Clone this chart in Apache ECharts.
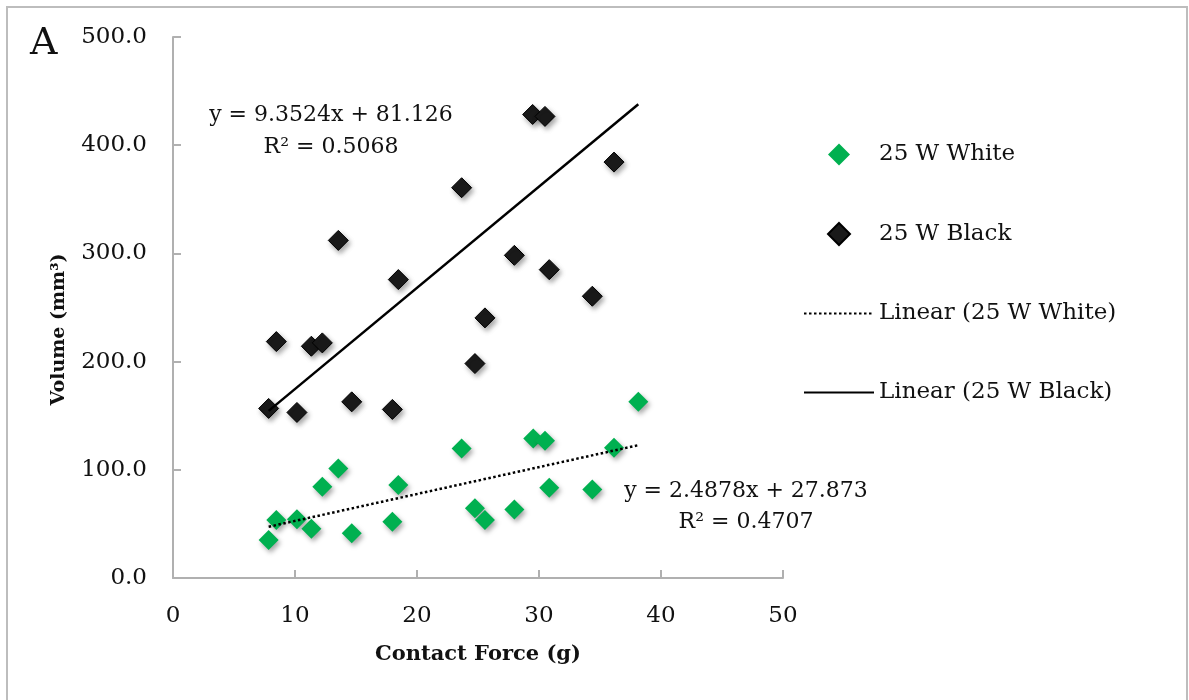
<!DOCTYPE html>
<html>
<head>
<meta charset="utf-8">
<script src="https://cdn.jsdelivr.net/npm/echarts@6/dist/echarts.min.js"></script>
<style>
  html, body { margin: 0; padding: 0; background: #fff; }
  #chart { width: 1189px; height: 700px; }
</style>
</head>
<body>
<div id="chart"></div>
<script>
  // contact force (g) for each sample
  const whiteForce = [7.84, 8.47, 10.16, 11.34, 12.24, 13.55, 14.65, 17.98, 18.47, 23.66, 24.75, 25.57, 27.98, 29.53, 30.49, 30.84, 34.37, 36.15, 38.14]
  const whiteVolume = [35.1, 53.6, 54.2, 45.5, 84.3, 101.3, 41.3, 52.0, 85.9, 119.8, 64.4, 53.6, 63.4, 129.0, 126.8, 83.4, 81.9, 120.3, 162.8]
  const blackForce = [7.84, 8.47, 10.16, 11.34, 12.24, 13.55, 14.65, 17.98, 18.47, 23.66, 24.75, 25.57, 27.98, 29.48, 30.49, 30.84, 34.37, 36.15]
  const blackVolume = [156.7, 218.5, 153.0, 214.2, 217.3, 312.0, 162.8, 155.8, 275.8, 360.7, 198.2, 240.4, 298.2, 428.4, 426.6, 285.0, 260.4, 384.4]

  // trendline fits: [white, black]
  const seriesNames = ['25 W White', '25 W Black']
  const slopes = [2.4878, 9.3524]
  const intercepts = [27.873, 81.126]
  const rSquared = ['0.4707', '0.5068']
  const trendRange = [7.84, 38.14]

  const xTicks = { min: 0, max: 50, step: 10 }
  const yTicks = { min: 0, max: 500, step: 100 }

  const font = 'DejaVu Serif'
  const txt = '#111'
  const diamond = 'path://M10,0L20,10L10,20L0,10Z'

  function pairs(xs, ys) {
    return xs.map((x, i) => [x, ys[i]])
  }
  function trend(k) {
    return trendRange.map(x => [x, slopes[k] * x + intercepts[k]])
  }
  function eqText(k) {
    return 'y = ' + slopes[k] + 'x + ' + intercepts[k]
  }

  const chart = echarts.init(document.getElementById('chart'))
  chart.setOption({
    animation: false,
    backgroundColor: '#fff',
    title: {
      text: 'A',
      left: 25,
      top: 20,
      textStyle: { fontFamily: font, fontSize: 38, fontWeight: 'normal', color: txt }
    },
    grid: { left: 173, right: 406, top: 37, bottom: 122 },
    legend: {
      orient: 'vertical',
      left: 798,
      top: 138,
      itemWidth: 70,
      itemHeight: 22,
      itemGap: 56,
      symbolKeepAspect: true,
      textStyle: { fontFamily: font, fontSize: 23, color: txt },
      data: [
        { name: seriesNames[0], icon: diamond },
        { name: seriesNames[1], icon: diamond },
        { name: 'Linear (25 W White)', itemStyle: { opacity: 0 } },
        { name: 'Linear (25 W Black)', itemStyle: { opacity: 0 } }
      ]
    },
    xAxis: {
      type: 'value',
      min: xTicks.min,
      max: xTicks.max,
      interval: xTicks.step,
      name: 'Contact Force (g)',
      nameLocation: 'middle',
      nameGap: 66,
      nameTextStyle: { fontFamily: font, fontSize: 21, fontWeight: 'bold', color: txt },
      axisLine: { lineStyle: { color: '#b0b0b0', width: 2 } },
      axisTick: { inside: true, length: 8, lineStyle: { color: '#b0b0b0', width: 2 } },
      axisLabel: { fontFamily: font, fontSize: 23, color: txt, margin: 27 },
      splitLine: { show: false }
    },
    yAxis: {
      type: 'value',
      min: yTicks.min,
      max: yTicks.max,
      interval: yTicks.step,
      name: 'Volume (mm³)',
      nameLocation: 'middle',
      nameGap: 104,
      nameTextStyle: { fontFamily: font, fontSize: 19, fontWeight: 'bold', color: txt, padding: [0, 44, 0, 0] },
      axisLine: { show: true, lineStyle: { color: '#b0b0b0', width: 2 } },
      axisTick: { show: true, inside: true, length: 8, lineStyle: { color: '#b0b0b0', width: 2 } },
      axisLabel: { fontFamily: font, fontSize: 23, color: txt, margin: 26, formatter: v => v.toFixed(1) },
      splitLine: { show: false }
    },
    series: [
      {
        name: seriesNames[0],
        type: 'scatter',
        symbol: 'diamond',
        symbolSize: 20,
        data: pairs(whiteForce, whiteVolume),
        itemStyle: {
          color: '#00b050',
          opacity: 1,
          shadowBlur: 5,
          shadowOffsetX: 2,
          shadowOffsetY: 3,
          shadowColor: 'rgba(0,0,0,0.35)'
        }
      },
      {
        name: seriesNames[1],
        type: 'scatter',
        symbol: 'diamond',
        symbolSize: 20,
        data: pairs(blackForce, blackVolume),
        itemStyle: {
          color: '#1a1a1a',
          opacity: 1,
          borderColor: '#000',
          borderWidth: 1,
          shadowBlur: 5,
          shadowOffsetX: 2,
          shadowOffsetY: 3,
          shadowColor: 'rgba(0,0,0,0.35)'
        }
      },
      {
        name: 'Linear (25 W White)',
        type: 'line',
        z: 3,
        symbol: 'none',
        data: trend(0),
        lineStyle: { color: '#000', width: 2.5, type: [2.5, 2.5] },
        itemStyle: { color: '#000' }
      },
      {
        name: 'Linear (25 W Black)',
        type: 'line',
        z: 3,
        symbol: 'none',
        data: trend(1),
        lineStyle: { color: '#000', width: 2.5, type: 'solid' },
        itemStyle: { color: '#000' }
      }
    ],
    graphic: [
      {
        type: 'rect',
        shape: { x: 7, y: 7, width: 1180, height: 720 },
        style: { fill: 'none', stroke: '#bdbdbd', lineWidth: 2 },
        silent: true
      },
      {
        type: 'text',
        x: 331, y: 115,
        style: { text: eqText(1), font: '22px "DejaVu Serif"', fill: txt, align: 'center', verticalAlign: 'middle' }
      },
      {
        type: 'text',
        x: 331, y: 147,
        style: { text: 'R² = ' + rSquared[1], font: '22px "DejaVu Serif"', fill: txt, align: 'center', verticalAlign: 'middle' }
      },
      {
        type: 'text',
        x: 746, y: 491,
        style: { text: eqText(0), font: '22px "DejaVu Serif"', fill: txt, align: 'center', verticalAlign: 'middle' }
      },
      {
        type: 'text',
        x: 746, y: 522,
        style: { text: 'R² = ' + rSquared[0], font: '22px "DejaVu Serif"', fill: txt, align: 'center', verticalAlign: 'middle' }
      }
    ]
  })
</script>
</body>
</html>
